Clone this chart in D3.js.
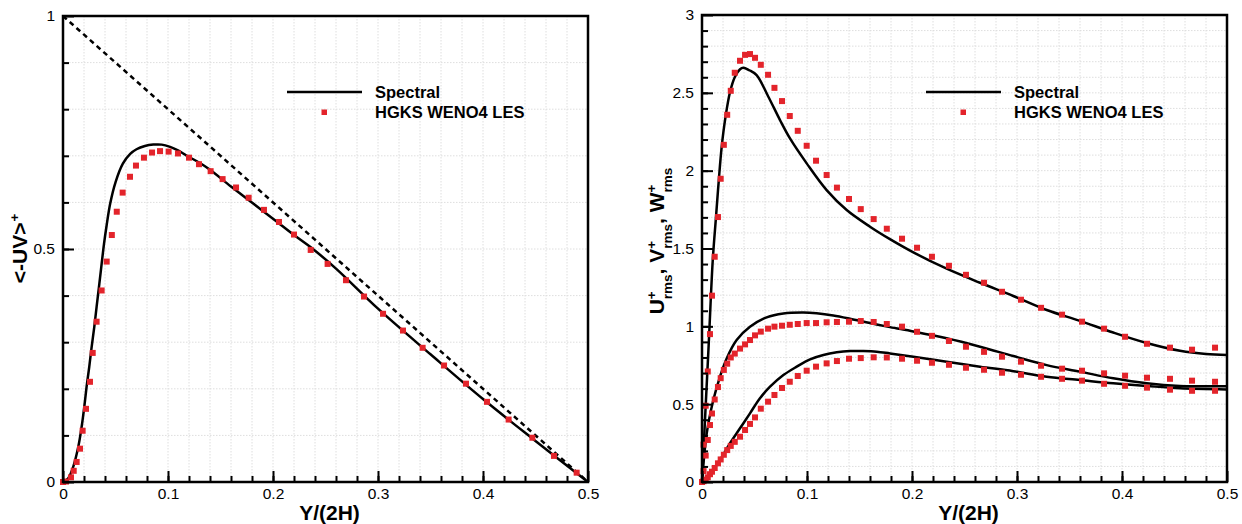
<!DOCTYPE html>
<html>
<head>
<meta charset="utf-8">
<script src="https://cdn.jsdelivr.net/npm/d3@7"></script>
<style>
  body { margin: 0; background: #fff; }
  svg { display: block; font-family: "Liberation Sans", Arial, Helvetica, sans-serif; }
</style>
</head>
<body>
<svg id="chart" width="1242" height="524"></svg>
<script>
// ── data: left panel, Reynolds shear stress ─────────────────────────────────
const specLX = [0, 0.005, 0.0098, 0.0146, 0.0178, 0.0203, 0.0225, 0.025, 0.0273, 0.0298, 0.032, 0.0346,
  0.0368, 0.039, 0.0415, 0.045, 0.05, 0.057, 0.064, 0.07, 0.078, 0.086, 0.094, 0.102, 0.11, 0.118,
  0.13, 0.14, 0.16, 0.178, 0.2, 0.22, 0.238, 0.26, 0.3, 0.35, 0.4, 0.45, 0.5];
const specL = [0, 0.008, 0.033, 0.076, 0.119, 0.162, 0.205, 0.247, 0.29, 0.333, 0.376, 0.425,
  0.468, 0.51, 0.55, 0.598, 0.643, 0.683, 0.704, 0.714, 0.721, 0.724, 0.724, 0.719, 0.711, 0.70,
  0.685, 0.67, 0.634, 0.603, 0.565, 0.53, 0.50, 0.458, 0.372, 0.274, 0.178, 0.088, 0];
const lesLX = [0, 0.0029, 0.0076, 0.0102, 0.013, 0.0162, 0.0187, 0.0219, 0.0257, 0.0283, 0.032, 0.0368,
  0.0416, 0.0465, 0.0512, 0.0568, 0.0638, 0.0695, 0.0771, 0.0848, 0.0924, 0.1006, 0.1095, 0.12,
  0.1295, 0.1406, 0.152, 0.1648, 0.1768, 0.1914, 0.2057, 0.22, 0.2359, 0.252, 0.2695, 0.2867, 0.3048,
  0.3238, 0.3425, 0.3629, 0.3838, 0.4038, 0.4244, 0.447, 0.4676, 0.4892];
const lesL = [0, 0.001, 0.010, 0.024, 0.043, 0.0715, 0.110, 0.157, 0.215, 0.277, 0.344, 0.411,
  0.473, 0.530, 0.580, 0.621, 0.655, 0.679, 0.696, 0.707, 0.710, 0.709, 0.705, 0.696,
  0.682, 0.667, 0.650, 0.632, 0.610, 0.584, 0.558, 0.531, 0.498, 0.468, 0.433, 0.398, 0.361,
  0.325, 0.288, 0.250, 0.211, 0.172, 0.134, 0.095, 0.056, 0.020];
const diagX = [0, 0.5];
const diagY = [1, 0];

// ── data: right panel, rms velocity fluctuations ───────────────────────────
const specUX = [0, 0.003, 0.0065, 0.0102, 0.0133, 0.0159, 0.0187, 0.0225, 0.0267, 0.0314, 0.036, 0.0394,
  0.045, 0.052, 0.0632, 0.0743, 0.0838, 0.0997, 0.1187, 0.1378, 0.16, 0.179, 0.2013, 0.233, 0.2648,
  0.2965, 0.3283, 0.36, 0.3917, 0.4235, 0.4552, 0.48, 0.5];
const specU = [0, 0.42, 0.9, 1.42, 1.70, 1.93, 2.15, 2.35, 2.505, 2.603, 2.65, 2.661,
  2.645, 2.614, 2.475, 2.325, 2.207, 2.047, 1.875, 1.747, 1.640, 1.56, 1.475, 1.37, 1.28,
  1.195, 1.105, 1.035, 0.96, 0.893, 0.843, 0.822, 0.816];
const specWX = [0, 0.0045, 0.0108, 0.0171, 0.0235, 0.033, 0.0457, 0.0616, 0.0775, 0.0965, 0.1092, 0.125,
  0.141, 0.16, 0.179, 0.2013, 0.233, 0.2648, 0.2965, 0.3283, 0.36, 0.3917, 0.4235, 0.4552, 0.5];
const specW = [0, 0.313, 0.527, 0.676, 0.794, 0.912, 0.997, 1.058, 1.083, 1.089, 1.084, 1.07,
  1.049, 1.021, 0.995, 0.967, 0.923, 0.869, 0.809, 0.751, 0.709, 0.666, 0.634, 0.617, 0.615];
const specVX = [0, 0.0076, 0.0171, 0.0267, 0.0362, 0.0457, 0.0552, 0.0648, 0.0775, 0.0902, 0.1029, 0.1156,
  0.1283, 0.141, 0.1536, 0.1664, 0.179, 0.2013, 0.233, 0.2648, 0.2965, 0.3283, 0.36, 0.3917, 0.4235,
  0.4552, 0.5];
const specV = [0, 0.056, 0.141, 0.249, 0.345, 0.441, 0.538, 0.612, 0.687, 0.741, 0.788, 0.816,
  0.833, 0.841, 0.841, 0.837, 0.826, 0.805, 0.773, 0.741, 0.712, 0.676, 0.655, 0.634, 0.617,
  0.602, 0.595];
const lesRX = [0, 0.0015, 0.0035, 0.0055, 0.0076, 0.0095, 0.0121, 0.0152, 0.0178, 0.0208, 0.024, 0.0274,
  0.0312, 0.0362, 0.041, 0.0457, 0.0505, 0.056, 0.0629, 0.069, 0.0762, 0.0836, 0.0912, 0.0997, 0.1086,
  0.1187, 0.1285, 0.14, 0.1512, 0.1635, 0.176, 0.1905, 0.2048, 0.219, 0.2352, 0.2514, 0.2686, 0.2857,
  0.3038, 0.3229, 0.3429, 0.3619, 0.3829, 0.4029, 0.4238, 0.4457, 0.4667, 0.4886];
const lesU = [0, 0.24, 0.49, 0.71, 0.95, 1.197, 1.447, 1.702, 1.948, 2.166, 2.359, 2.513,
  2.629, 2.706, 2.744, 2.749, 2.725, 2.680, 2.616, 2.532, 2.447, 2.351, 2.256, 2.160, 2.064,
  1.972, 1.891, 1.818, 1.753, 1.689, 1.627, 1.563, 1.505, 1.447, 1.389, 1.331, 1.280, 1.222,
  1.171, 1.119, 1.075, 1.030, 0.985, 0.933, 0.888, 0.863, 0.850, 0.863];
const lesW = [0, 0.07, 0.17, 0.27, 0.366, 0.44, 0.53, 0.61, 0.667, 0.72, 0.76, 0.80,
  0.825, 0.857, 0.884, 0.912, 0.942, 0.966, 0.985, 0.998, 1.004, 1.010, 1.015, 1.021, 1.021,
  1.026, 1.028, 1.030, 1.034, 1.028, 1.015, 0.998, 0.965, 0.939, 0.906, 0.869, 0.836, 0.805,
  0.773, 0.747, 0.728, 0.715, 0.698, 0.683, 0.670, 0.663, 0.651, 0.644];
const lesV = [0, 0.005, 0.015, 0.03, 0.05, 0.066, 0.09, 0.12, 0.145, 0.175, 0.205, 0.232,
  0.258, 0.291, 0.334, 0.373, 0.415, 0.471, 0.516, 0.559, 0.604, 0.644, 0.681, 0.715, 0.741,
  0.762, 0.777, 0.792, 0.796, 0.801, 0.800, 0.792, 0.779, 0.766, 0.753, 0.734, 0.721, 0.702,
  0.689, 0.676, 0.663, 0.651, 0.631, 0.618, 0.606, 0.593, 0.586, 0.586];

// ── ticks and legend ───────────────────────────────────────────────────────
const xMajor = [0, 0.1, 0.2, 0.3, 0.4, 0.5];
const xMinor = d3.range(1, 25).map((i) => i / 50);
const yMajorL = [0, 0.5, 1];
const yMinorL = d3.range(1, 10).map((i) => i / 10);
const yMajorR = [0, 0.5, 1, 1.5, 2, 2.5, 3];
const yMinorR = d3.range(1, 30).map((i) => i / 10);
const legendLabels = ["Spectral", "HGKS WENO4 LES"];

const RED = "#e3242b";
const svg = d3.select("#chart");

function panel(box, yMax, yMajor, yMinor) {
  const x = d3.scaleLinear().domain([0, 0.5]).range([box.left, box.right]);
  const y = d3.scaleLinear().domain([0, yMax]).range([box.bottom, box.top]);
  const g = svg.append("g");

  // dotted grid
  const grid = g.append("g").attr("stroke", "#dedede").attr("stroke-width", 1)
    .attr("stroke-dasharray", "1.5,1.5");
  grid.selectAll(".gx").data(xMinor).join("line")
    .attr("x1", (d) => x(d)).attr("x2", (d) => x(d))
    .attr("y1", box.top).attr("y2", box.bottom);
  grid.selectAll(".gy").data(yMinor).join("line")
    .attr("y1", (d) => y(d)).attr("y2", (d) => y(d))
    .attr("x1", box.left).attr("x2", box.right);

  const plot = g.append("g");
  const axes = g.append("g");
  return {x, y, plot, axes, box, yMajor, yMinor};
}

function drawAxes(p) {
  const {x, y, axes, box} = p;
  const fmt = (d) => String(d);
  axes.append("g").attr("transform", `translate(0,${box.bottom})`)
    .call(d3.axisBottom(x).tickValues(xMinor).tickSize(-6).tickFormat(""));
  axes.append("g").attr("transform", `translate(0,${box.bottom})`)
    .call(d3.axisBottom(x).tickValues(xMajor).tickSize(-11).tickPadding(6).tickFormat(fmt));
  axes.append("g").attr("transform", `translate(${box.left},0)`)
    .call(d3.axisLeft(y).tickValues(p.yMinor).tickSize(-6).tickFormat(""));
  axes.append("g").attr("transform", `translate(${box.left},0)`)
    .call(d3.axisLeft(y).tickValues(p.yMajor).tickSize(-11).tickPadding(8).tickFormat(fmt));
  axes.selectAll(".domain").remove();
  axes.selectAll(".tick line").attr("stroke", "#000").attr("stroke-width", 2);
  axes.selectAll(".tick text").attr("font-size", 15.5).attr("fill", "#000")
    .attr("font-family", "Liberation Sans, Arial, sans-serif");
  axes.append("rect")
    .attr("x", box.left).attr("y", box.top)
    .attr("width", box.right - box.left).attr("height", box.bottom - box.top)
    .attr("fill", "none").attr("stroke", "#000").attr("stroke-width", 2.5);
  axes.append("text")
    .attr("x", (box.left + box.right) / 2 + 4).attr("y", 520)
    .attr("text-anchor", "middle").attr("font-size", 21).attr("font-weight", "bold")
    .text("Y/(2H)");
}

function curve(p, xs, ys, dash) {
  const line = d3.line().x((d) => p.x(d[0])).y((d) => p.y(d[1])).curve(d3.curveCatmullRom.alpha(0.5));
  p.plot.append("path")
    .attr("d", line(d3.zip(xs, ys)))
    .attr("fill", "none").attr("stroke", "#000").attr("stroke-width", 2.5)
    .attr("stroke-dasharray", dash || null);
}

function markers(p, xs, ys) {
  p.plot.append("g").selectAll("rect").data(d3.zip(xs, ys)).join("rect")
    .attr("x", (d) => p.x(d[0]) - 3).attr("y", (d) => p.y(d[1]) - 3)
    .attr("width", 6).attr("height", 6).attr("fill", RED);
}

function legend(x0, y0) {
  const g = svg.append("g").attr("transform", `translate(${x0},${y0})`);
  g.append("line").attr("x1", 0).attr("x2", 75).attr("y1", 0).attr("y2", 0)
    .attr("stroke", "#000").attr("stroke-width", 2.5);
  g.append("rect").attr("x", 34.5).attr("y", 17.5).attr("width", 5.5).attr("height", 5.5).attr("fill", RED);
  g.selectAll("text").data(legendLabels).join("text")
    .attr("x", 88).attr("y", (d, i) => 5.5 + i * 20)
    .attr("font-size", 16.5).attr("font-weight", "bold").text((d) => d);
}

// rotated title with Tecplot-like stacked sub/superscripts
function yTitle(baseX, centerY, parts) {
  const g = svg.append("g");
  let cx = 0;
  for (const [main, sub, sup] of parts) {
    const t = g.append("text").attr("x", cx).attr("y", 0)
      .attr("font-size", 21).attr("font-weight", "bold").text(main);
    cx += t.node().getComputedTextLength();
    let w = 0;
    if (sub) {
      const s = g.append("text").attr("x", cx).attr("y", 7.5)
        .attr("font-size", 13.5).attr("font-weight", "bold").text(sub);
      w = s.node().getComputedTextLength();
    }
    if (sup) {
      const s = g.append("text").attr("x", cx + (sub ? 0 : 1)).attr("y", -8)
        .attr("font-size", 13.5).attr("font-weight", "bold").text(sup);
      w = Math.max(w, s.node().getComputedTextLength());
    }
    cx += w;
  }
  g.attr("transform", `translate(${baseX},${centerY + cx / 2}) rotate(-90)`);
}

// ── left panel ─────────────────────────────────────────────────────────────
const L = panel({left: 63, right: 588, top: 16, bottom: 482}, 1, yMajorL, yMinorL);
curve(L, diagX, diagY, "5,4");
curve(L, specLX, specL);
markers(L, lesLX, lesL);
drawAxes(L);
legend(287, 92);
yTitle(27, 249, [["<-UV>", null, "+"]]);

// ── right panel ────────────────────────────────────────────────────────────
const R = panel({left: 702, right: 1227, top: 15, bottom: 482}, 3, yMajorR, yMinorR);
curve(R, specUX, specU);
curve(R, specWX, specW);
curve(R, specVX, specV);
markers(R, lesRX, lesU);
markers(R, lesRX, lesW);
markers(R, lesRX, lesV);
drawAxes(R);
legend(926, 92);
yTitle(664, 241, [["U", "rms", "+"], [", V", "rms", "+"], [", W", "rms", "+"]]);
</script>
</body>
</html>
